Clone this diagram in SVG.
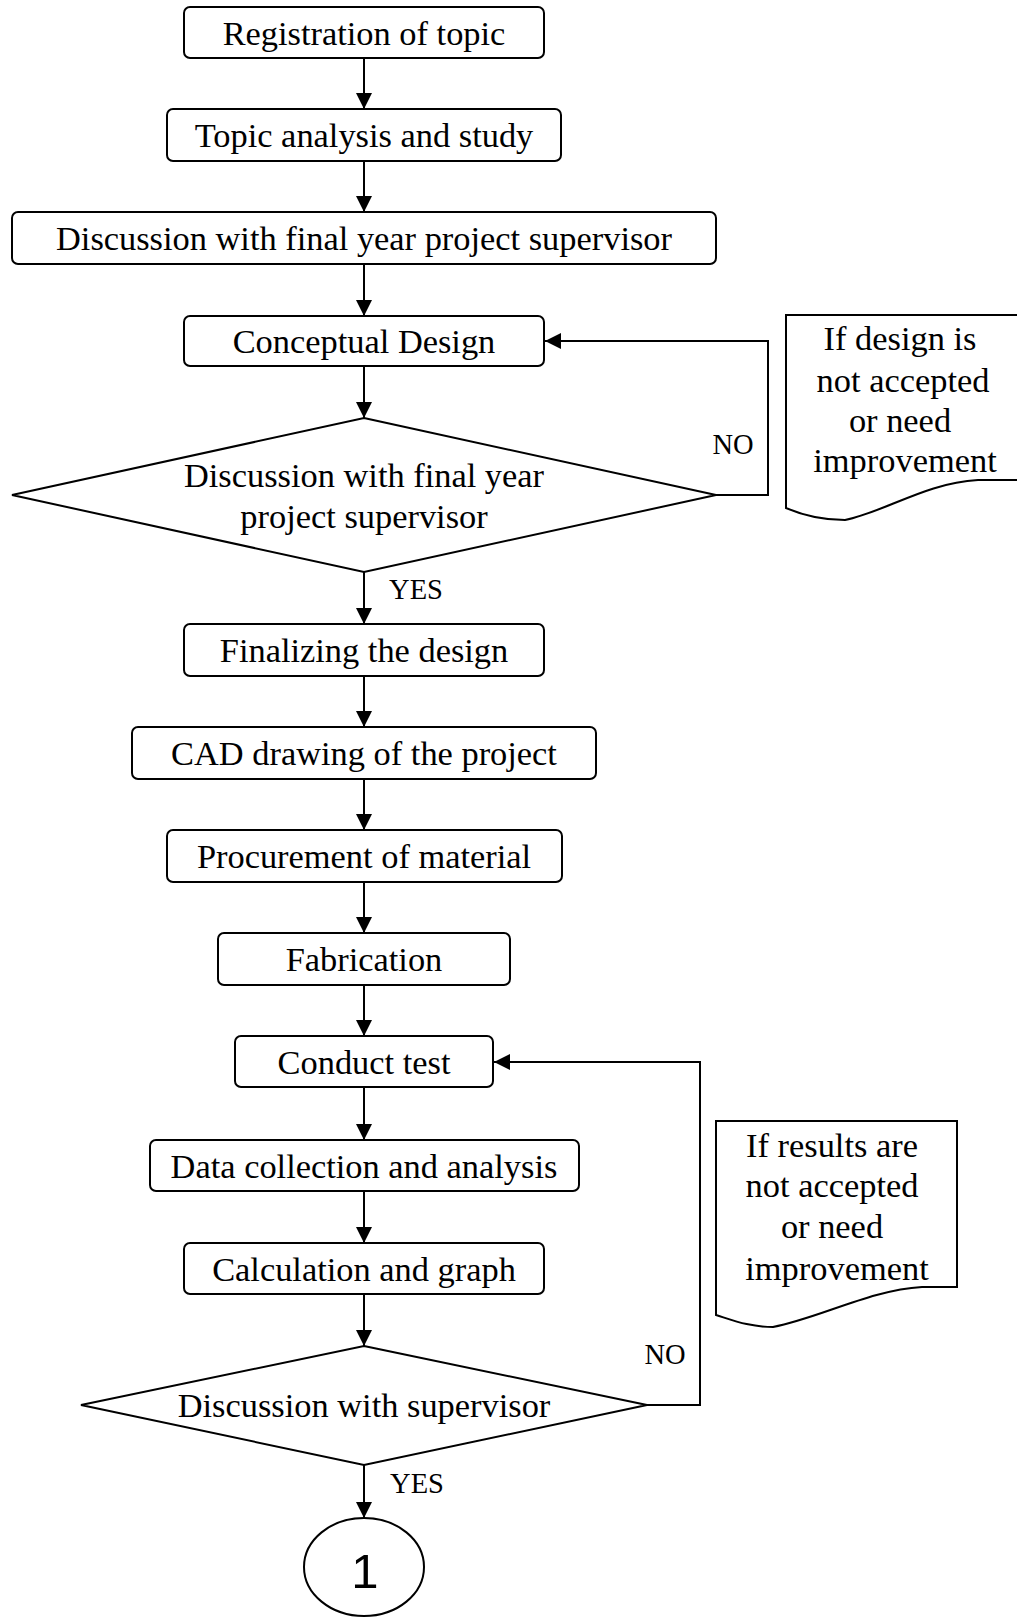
<svg xmlns="http://www.w3.org/2000/svg" width="1017" height="1617" viewBox="0 0 1017 1617">
<defs>
<marker id="ah" markerWidth="16" markerHeight="16" refX="16" refY="8" orient="auto" markerUnits="userSpaceOnUse">
<path d="M0,0 L16,8 L0,16 Z" fill="#000"/>
</marker>
<style>
.box{fill:#fff;stroke:#000;stroke-width:2}
.t{font-family:"Liberation Serif","Times New Roman",serif;font-size:34.4px;text-anchor:middle;fill:#000}
.lbl{font-family:"Liberation Serif","Times New Roman",serif;font-size:28.5px;text-anchor:middle;fill:#000}
.c{fill:none;stroke:#000;stroke-width:2;marker-end:url(#ah)}
</style>
</defs>
<rect width="1017" height="1617" fill="#fff"/>
<g id="connectors">
<path class="c" d="M364,58 V109"/>
<path class="c" d="M364,161 V212"/>
<path class="c" d="M364,264 V316"/>
<path class="c" d="M364,366 V418"/>
<path class="c" d="M364,572 V624"/>
<path class="c" d="M364,676 V727"/>
<path class="c" d="M364,779 V830"/>
<path class="c" d="M364,882 V933"/>
<path class="c" d="M364,985 V1036"/>
<path class="c" d="M364,1087 V1140"/>
<path class="c" d="M364,1191 V1243"/>
<path class="c" d="M364,1294 V1346"/>
<path class="c" d="M364,1465 V1518"/>
<path class="c" d="M716,495 H768 V341 H545"/>
<path class="c" d="M647,1405 H700 V1062 H494"/>
<text class="lbl" x="733" y="454">NO</text>
<text class="lbl" x="416" y="599">YES</text>
<text class="lbl" x="665" y="1364">NO</text>
<text class="lbl" x="417" y="1493">YES</text>
</g>
<g id="n1"><rect class="box" x="184" y="7" width="360" height="51" rx="6"/><text class="t" x="364" y="44.5">Registration of topic</text></g>
<g id="n2"><rect class="box" x="167" y="109" width="394" height="52" rx="6"/><text class="t" x="364" y="147">Topic analysis and study</text></g>
<g id="n3"><rect class="box" x="12" y="212" width="704" height="52" rx="6"/><text class="t" x="364" y="250">Discussion with final year project supervisor</text></g>
<g id="n4"><rect class="box" x="184" y="316" width="360" height="50" rx="6"/><text class="t" x="364" y="353">Conceptual Design</text></g>
<g id="d1"><polygon class="box" points="364,418 716,495 364,572 12,495"/><text class="t" x="364" y="487">Discussion with final year</text><text class="t" x="364" y="528">project supervisor</text></g>
<g id="note1"><path class="box" d="M786,508 V315 H1022 V480 H978 C 925,483 885,512 845,520 C 818,520 800,514 786,508 Z"/>
<text class="t" x="900" y="350">If design is</text><text class="t" x="903" y="392">not accepted</text><text class="t" x="900" y="432">or need</text><text class="t" x="905" y="472">improvement</text></g>
<g id="n6"><rect class="box" x="184" y="624" width="360" height="52" rx="6"/><text class="t" x="364" y="662">Finalizing the design</text></g>
<g id="n7"><rect class="box" x="132" y="727" width="464" height="52" rx="6"/><text class="t" x="364" y="765">CAD drawing of the project</text></g>
<g id="n8"><rect class="box" x="167" y="830" width="395" height="52" rx="6"/><text class="t" x="364" y="868">Procurement of material</text></g>
<g id="n9"><rect class="box" x="218" y="933" width="292" height="52" rx="6"/><text class="t" x="364" y="971">Fabrication</text></g>
<g id="n10"><rect class="box" x="235" y="1036" width="258" height="51" rx="6"/><text class="t" x="364" y="1073.5">Conduct test</text></g>
<g id="n11"><rect class="box" x="150" y="1140" width="429" height="51" rx="6"/><text class="t" x="364" y="1177.5">Data collection and analysis</text></g>
<g id="n12"><rect class="box" x="184" y="1243" width="360" height="51" rx="6"/><text class="t" x="364" y="1280.5">Calculation and graph</text></g>
<g id="d2"><polygon class="box" points="364,1346 647,1405 364,1465 81,1405"/><text class="t" x="364" y="1417">Discussion with supervisor</text></g>
<g id="note2"><path class="box" d="M716,1315 V1121 H957 V1287 H922 C 870,1290 820,1318 773,1327 C 750,1327 735,1321 716,1315 Z"/>
<text class="t" x="832" y="1157">If results are</text><text class="t" x="832" y="1197">not accepted</text><text class="t" x="832" y="1238">or need</text><text class="t" x="837" y="1280">improvement</text></g>
<g id="c1"><ellipse class="box" cx="364" cy="1567" rx="60" ry="49"/><text x="365" y="1588" style="font-family:'Liberation Sans',Arial,sans-serif;font-size:49px;text-anchor:middle">1</text></g>
</svg>
